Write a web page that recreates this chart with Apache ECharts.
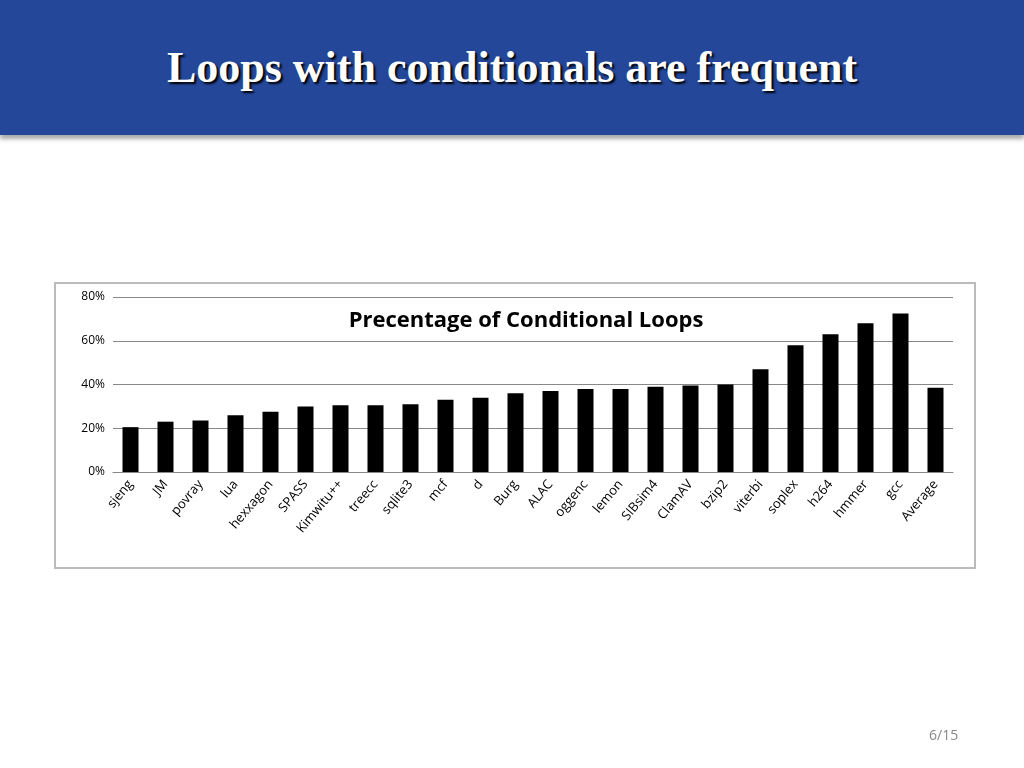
<!DOCTYPE html>
<html><head><meta charset="utf-8">
<script src="https://cdn.jsdelivr.net/npm/echarts@6/dist/echarts.min.js"></script>
<style>
html,body{margin:0;padding:0;background:#fff;}
#hdr{position:absolute;left:0;top:0;width:1024px;height:135px;background:#24479a;box-shadow:0 4px 4px #aaa;}
#hdr div{position:absolute;left:0;width:1024px;top:42px;text-align:center;color:#fff;font:bold 44px "Liberation Serif",serif;text-shadow:2px 2px 2px #000;}
#box{position:absolute;left:54px;top:282px;width:918px;height:283px;border:2px solid #bbb;}
#c{position:absolute;left:0;top:0;width:1024px;height:768px;}
#pg{position:absolute;left:929px;top:725px;color:#888;font:14px "Open Sans",sans-serif;}
</style></head><body>
<div id="hdr"><div>Loops with conditionals are frequent</div></div>
<div id="box"></div>
<div id="c"></div>
<div id="pg">6/15</div>
<script>
const categories=["sjeng","JM","povray","lua","hexxagon","SPASS","Kimwitu++","treecc","sqlite3","mcf","d","Burg","ALAC","oggenc","lemon","SIBsim4","ClamAV","bzip2","viterbi","soplex","h264","hmmer","gcc","Average"];
const values=[20.5,23,23.5,26,27.5,30,30.5,30.5,31,33,34,36,37,38,38,39,39.5,40,47,58,63,68,72.5,38.5];
const yTicks=[0,20,40,60,80];
const chart=echarts.init(document.getElementById('c'));
chart.setOption({
 animation:false,
 title:{text:'Precentage of Conditional Loops',left:521,top:305,textAlign:'center',textStyle:{fontFamily:'Open Sans',fontSize:22,fontWeight:'bold',color:'#000'}},
 grid:{left:113,right:71,top:297,bottom:296},
 xAxis:{type:'category',data:categories,axisTick:{show:false},axisLine:{lineStyle:{color:'#888'}},
  axisLabel:{rotate:50,interval:0,fontFamily:'Open Sans',fontSize:13,color:'#000',margin:10}},
 yAxis:{type:'value',min:yTicks[0],max:yTicks[yTicks.length-1],interval:20,
  axisLabel:{formatter:'{value}%',fontFamily:'Open Sans',fontSize:12,color:'#000'},
  splitLine:{lineStyle:{color:'#888'}},axisLine:{show:false}},
 series:[{type:'bar',data:values,barWidth:16,itemStyle:{color:'#000'}}]
});
</script></body></html>
